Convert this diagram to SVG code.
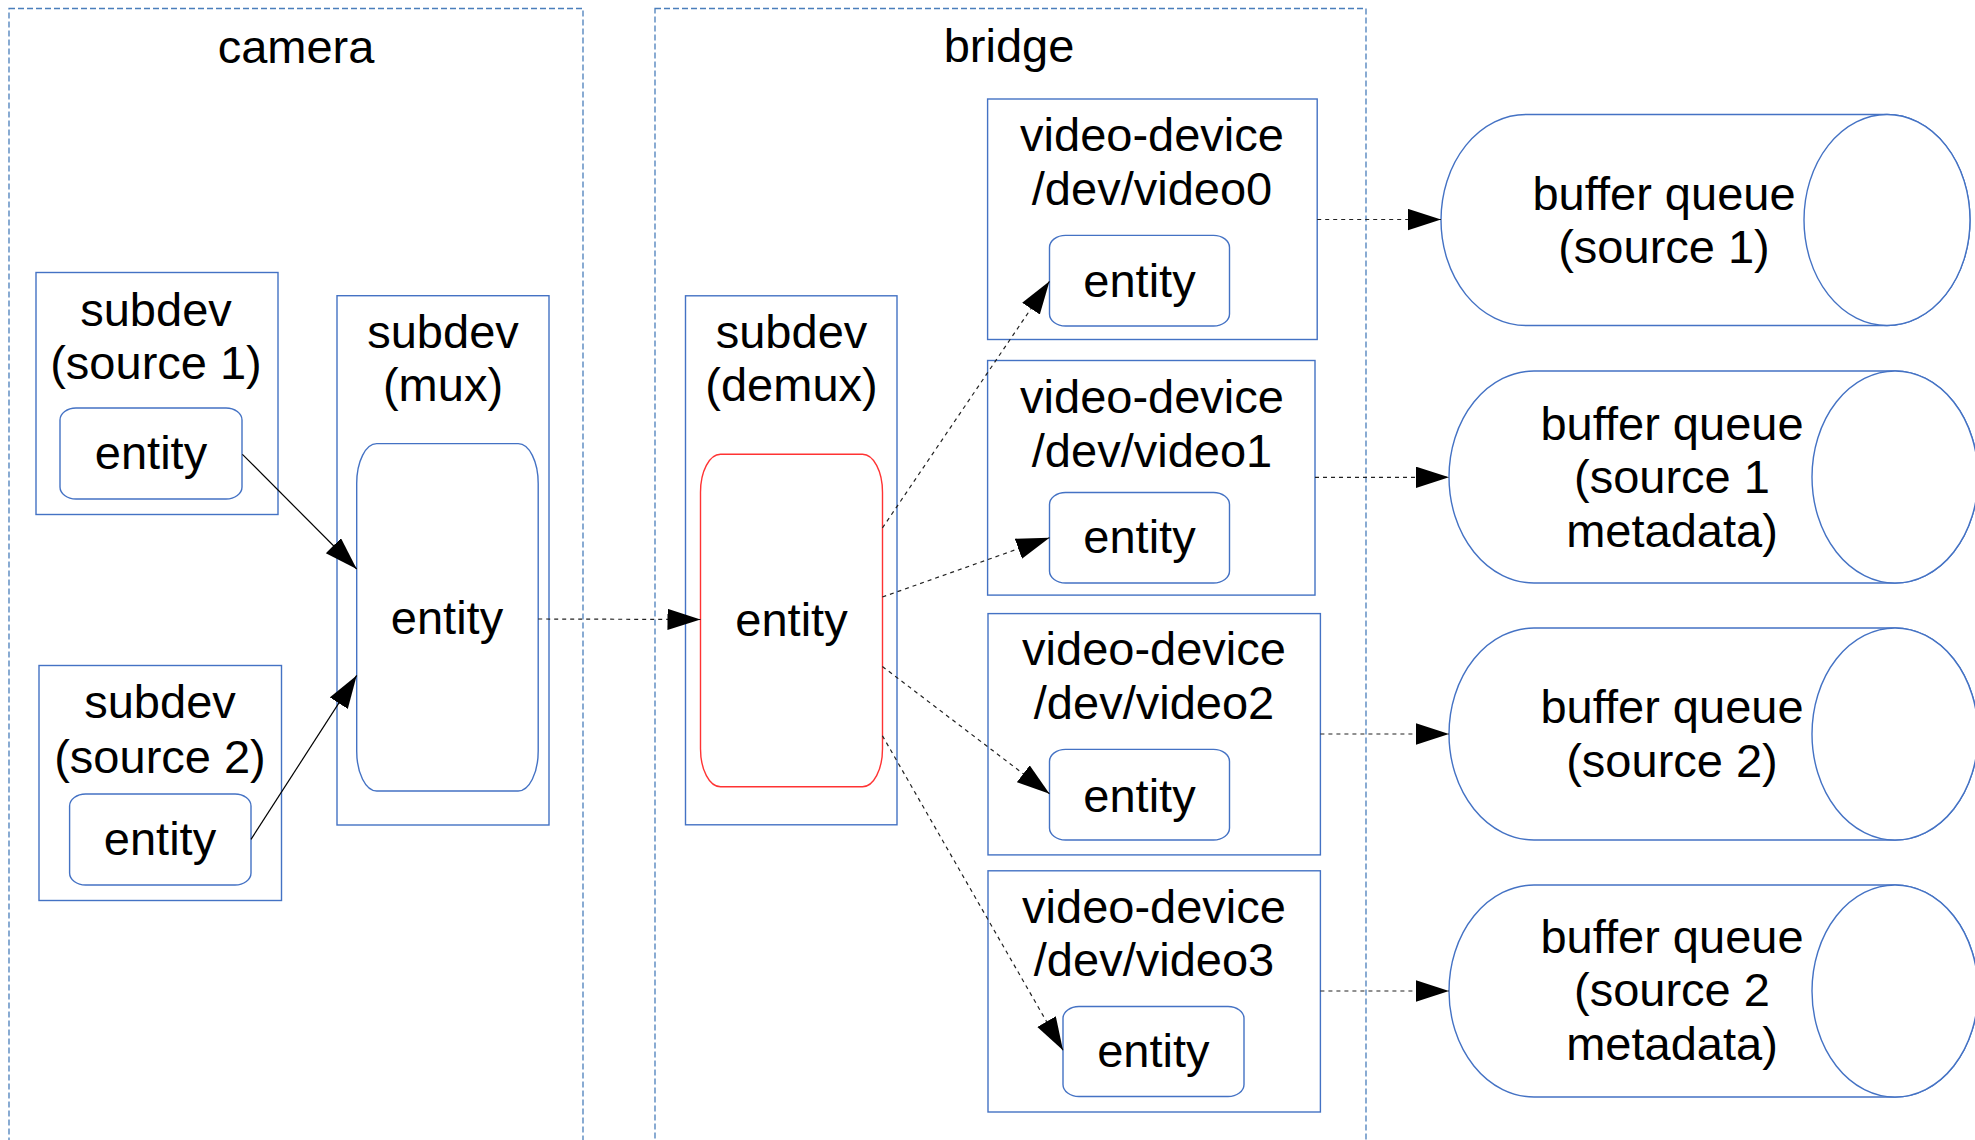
<svg xmlns="http://www.w3.org/2000/svg" width="1975" height="1140" viewBox="0 0 1975 1140">
<defs>
<style>
.cont{fill:none;stroke:#4a7ebb;stroke-width:1.3;stroke-dasharray:6 3}
.box{fill:#fff;stroke:#4472c4;stroke-width:1.4}
.ent{fill:#fff;stroke:#4472c4;stroke-width:1.4}
.red{fill:#fff;stroke:#ff3333;stroke-width:1.4}
.cyl{fill:#fff;stroke:#4472c4;stroke-width:1.4}
text{font-family:"Liberation Sans",Arial,sans-serif;font-size:47px;fill:#000;text-anchor:middle}
.solid{fill:none;stroke:#000;stroke-width:1.2;marker-end:url(#ah)}
.dash{fill:none;stroke:#222;stroke-width:1.2;stroke-dasharray:4 4;marker-end:url(#ah)}
</style>
<marker id="ah" markerUnits="userSpaceOnUse" markerWidth="34" markerHeight="22" refX="33" refY="10.65" orient="auto" viewBox="0 0 34 22">
<path d="M0,0 L33,10.65 L0,21.3 Z" fill="#000"/>
</marker>
</defs>

<g id="camera">
<rect class="cont" x="9" y="8.5" width="574" height="1150"/>
<text x="296" y="62.5">camera</text>
</g>
<g id="bridge">
<rect class="cont" x="655" y="8.5" width="711" height="1150"/>
<text x="1009" y="62">bridge</text>
</g>

<g id="subdev-source1">
<rect class="box" x="36" y="272.5" width="242" height="242"/>
<text x="156" y="325.7">subdev</text>
<text x="156" y="378.6">(source 1)</text>
</g>
<g id="entity-source1">
<rect class="ent" x="60" y="408" width="182" height="91" rx="16" ry="12"/>
<text x="151" y="469">entity</text>
</g>

<g id="subdev-source2">
<rect class="box" x="39" y="665.5" width="242.5" height="235"/>
<text x="160" y="718.3">subdev</text>
<text x="160" y="772.5">(source 2)</text>
</g>
<g id="entity-source2">
<rect class="ent" x="69.6" y="794" width="181.4" height="91" rx="16" ry="12"/>
<text x="160" y="855">entity</text>
</g>

<g id="subdev-mux">
<rect class="box" x="337" y="295.7" width="212" height="529.3"/>
<text x="443" y="348.2">subdev</text>
<text x="443" y="400.5">(mux)</text>
</g>
<g id="entity-mux">
<rect class="ent" x="356.7" y="443.6" width="181.5" height="347.4" rx="20" ry="40"/>
<text x="447" y="634">entity</text>
</g>

<g id="subdev-demux">
<rect class="box" x="685.5" y="295.8" width="211.5" height="529"/>
<text x="791.5" y="348.3">subdev</text>
<text x="791.5" y="401">(demux)</text>
</g>
<g id="entity-demux">
<rect class="red" x="700.5" y="454.3" width="182" height="332.5" rx="20" ry="38"/>
<text x="791.5" y="636">entity</text>
</g>

<g id="video0">
<rect class="box" x="987.6" y="99" width="329.6" height="240.5"/>
<text x="1152" y="151.2">video-device</text>
<text x="1152" y="204.7">/dev/video0</text>
</g>
<g id="entity-video0">
<rect class="ent" x="1049.5" y="235.4" width="180" height="90.6" rx="16" ry="12"/>
<text x="1139.5" y="296.6">entity</text>
</g>

<g id="video1">
<rect class="box" x="987.6" y="360.5" width="327.4" height="234.6"/>
<text x="1152" y="413.3">video-device</text>
<text x="1152" y="467">/dev/video1</text>
</g>
<g id="entity-video1">
<rect class="ent" x="1049.5" y="492.5" width="180" height="90.5" rx="16" ry="12"/>
<text x="1139.5" y="553">entity</text>
</g>

<g id="video2">
<rect class="box" x="988" y="613.6" width="332.4" height="241.3"/>
<text x="1154" y="665.4">video-device</text>
<text x="1154" y="719.1">/dev/video2</text>
</g>
<g id="entity-video2">
<rect class="ent" x="1049.5" y="749.4" width="180" height="90.6" rx="16" ry="12"/>
<text x="1139.5" y="811.6">entity</text>
</g>

<g id="video3">
<rect class="box" x="988" y="870.8" width="332.4" height="241.2"/>
<text x="1154" y="922.6">video-device</text>
<text x="1154" y="976.2">/dev/video3</text>
</g>
<g id="entity-video3">
<rect class="ent" x="1063" y="1006.5" width="181" height="90" rx="16" ry="12"/>
<text x="1153.3" y="1066.8">entity</text>
</g>

<g id="bq-source1">
<path class="cyl" d="M1526,114.5 L1887,114.5 A83,105.5 0 0 1 1887,325.5 L1526,325.5 A85,105.5 0 0 1 1526,114.5 Z"/>
<ellipse class="cyl" cx="1887" cy="220" rx="83" ry="105.5"/>
<text x="1664" y="210.2">buffer queue</text>
<text x="1664" y="262.5">(source 1)</text>
</g>
<g id="bq-source1-meta">
<path class="cyl" d="M1534,371 L1895,371 A83,106 0 0 1 1895,583 L1534,583 A85,106 0 0 1 1534,371 Z"/>
<ellipse class="cyl" cx="1895" cy="477" rx="83" ry="106"/>
<text x="1672" y="439.8">buffer queue</text>
<text x="1672" y="492.5">(source 1</text>
<text x="1672" y="546.6">metadata)</text>
</g>
<g id="bq-source2">
<path class="cyl" d="M1534,628 L1895,628 A83,106 0 0 1 1895,840 L1534,840 A85,106 0 0 1 1534,628 Z"/>
<ellipse class="cyl" cx="1895" cy="734" rx="83" ry="106"/>
<text x="1672" y="723.3">buffer queue</text>
<text x="1672" y="777.3">(source 2)</text>
</g>
<g id="bq-source2-meta">
<path class="cyl" d="M1534,885 L1895,885 A83,106 0 0 1 1895,1097 L1534,1097 A85,106 0 0 1 1534,885 Z"/>
<ellipse class="cyl" cx="1895" cy="991" rx="83" ry="106"/>
<text x="1672" y="953">buffer queue</text>
<text x="1672" y="1006.3">(source 2</text>
<text x="1672" y="1059.7">metadata)</text>
</g>

<g id="connectors">
<line class="solid" x1="242.4" y1="454.3" x2="356.7" y2="569"/>
<line class="solid" x1="251" y1="839.3" x2="356.7" y2="675.4"/>
<line class="dash" x1="538.2" y1="619" x2="700.5" y2="619.5"/>
<line class="dash" x1="882.4" y1="528" x2="1049.5" y2="281.3"/>
<line class="dash" x1="882.4" y1="597" x2="1049.5" y2="537.7"/>
<line class="dash" x1="882.4" y1="666.5" x2="1049.5" y2="793.8"/>
<line class="dash" x1="882.4" y1="735.7" x2="1063" y2="1050.2"/>
<line class="dash" x1="1317.2" y1="219.5" x2="1441" y2="219.5"/>
<line class="dash" x1="1315" y1="477.3" x2="1449" y2="477.3"/>
<line class="dash" x1="1320.4" y1="734" x2="1449" y2="734"/>
<line class="dash" x1="1320.4" y1="991" x2="1449" y2="991"/>
</g>
</svg>
